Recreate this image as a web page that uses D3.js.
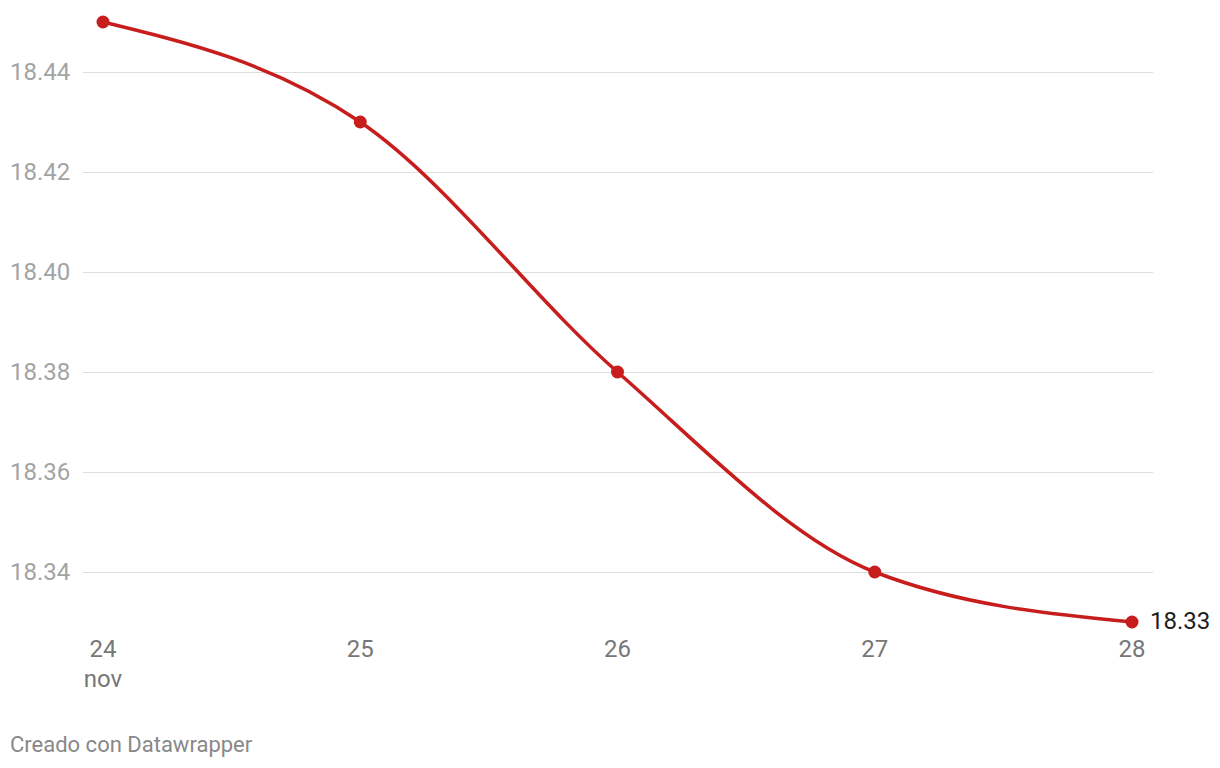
<!DOCTYPE html>
<html>
<head>
<meta charset="utf-8">
<script src="https://cdn.jsdelivr.net/npm/d3@7"></script>
<style>
  body { margin: 0; background: #fff; }
  text { font-family: Roboto, "Noto Sans", sans-serif; }
</style>
</head>
<body>
<script>
// data
const days = [24, 25, 26, 27, 28];
const values = [18.45, 18.43, 18.38, 18.34, 18.33];
const yTicks = [18.34, 18.36, 18.38, 18.40, 18.42, 18.44];
const monthLabel = "nov";

const svgWidth = 1220, svgHeight = 768;

const svg = d3.select("body").append("svg")
  .attr("width", svgWidth)
  .attr("height", svgHeight);

const x = d3.scaleLinear().domain([24, 28]).range([103, 1132]);
const y = d3.scaleLinear().domain([18.33, 18.45]).range([622, 22]);

// gridlines + y labels
const grid = svg.append("g");
grid.selectAll("line")
  .data(yTicks)
  .enter().append("line")
  .attr("x1", 83).attr("x2", 1153)
  .attr("y1", d => Math.round(y(d)) + 0.5)
  .attr("y2", d => Math.round(y(d)) + 0.5)
  .attr("stroke", "#dedede")
  .attr("stroke-width", 1);

grid.selectAll("text")
  .data(yTicks)
  .enter().append("text")
  .attr("x", 10)
  .attr("y", d => y(d) + 8)
  .attr("fill", "#a3a3a3")
  .attr("font-size", 24)
  .text(d => d3.format(".2f")(d));

// x axis labels
const xAxis = svg.append("g");
xAxis.selectAll("text")
  .data(days)
  .enter().append("text")
  .attr("x", d => x(d))
  .attr("y", 657)
  .attr("text-anchor", "middle")
  .attr("fill", "#777")
  .attr("font-size", 24)
  .text(d => d);

xAxis.append("text")
  .attr("x", x(days[0]))
  .attr("y", 687)
  .attr("text-anchor", "middle")
  .attr("fill", "#777")
  .attr("font-size", 24)
  .text(monthLabel);

// line
const pts = days.map((d, i) => [d, values[i]]);
const line = d3.line()
  .x(d => x(d[0]))
  .y(d => y(d[1]))
  .curve(d3.curveMonotoneX);

svg.append("path")
  .datum(pts)
  .attr("d", line)
  .attr("fill", "none")
  .attr("stroke", "#c71e1d")
  .attr("stroke-width", 3.5)
  .attr("stroke-linejoin", "round");

svg.append("g").selectAll("circle")
  .data(pts)
  .enter().append("circle")
  .attr("cx", d => x(d[0]))
  .attr("cy", d => y(d[1]))
  .attr("r", 6.5)
  .attr("fill", "#c71e1d");

// end label
const last = pts[pts.length - 1];
svg.append("text")
  .attr("x", x(last[0]) + 18)
  .attr("y", y(last[1]) + 7)
  .attr("fill", "#1d1d1d")
  .attr("font-size", 24)
  .text(d3.format(".2f")(last[1]));

// footer
svg.append("text")
  .attr("x", 10)
  .attr("y", 752)
  .attr("fill", "#888")
  .attr("font-size", 22)
  .text("Creado con Datawrapper");
</script>
</body>
</html>
